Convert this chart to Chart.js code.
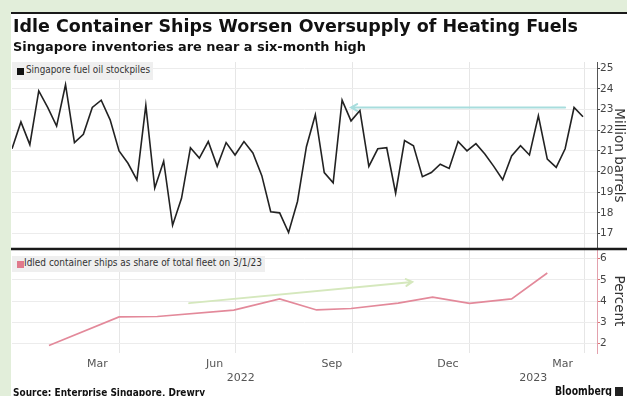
<!DOCTYPE html>
<html lang="en">
<head>
<meta charset="utf-8">
<title>Idle Container Ships Worsen Oversupply of Heating Fuels</title>
<script src="https://cdn.jsdelivr.net/npm/chart.js@4.4.1/dist/chart.umd.min.js"></script>
<style>
  html, body { margin: 0; padding: 0; }
  body {
    position: relative;
    width: 627px; height: 396px; overflow: hidden;
    background: #e2eeda;
    font-family: 'DejaVu Sans', sans-serif;
    color: #111;
  }
  #card {
    position: absolute; left: 11px; top: 12px; width: 616px; height: 384px;
    background: #fff; border-top: 2px solid #1a1a1a; box-sizing: border-box;
  }
  #chart { position: absolute; left: 0; top: 0; }
  .txt { position: absolute; white-space: nowrap; transform-origin: 0 0; }
  #title { left: 13px; top: 16px; font-size: 17px; font-weight: bold; }
  #subtitle { left: 13px; top: 40px; font-size: 12px; font-weight: bold; }
  .key { position: absolute; background: #efefef; color: #333; font-size: 10px; }
  .key .sq { position: absolute; left: 5px; width: 7px; height: 7px; }
  .key .lbl { position: absolute; top: 2px; white-space: nowrap; transform-origin: 0 0; }
  #keyFuel { left: 12px; top: 62px; width: 141px; height: 18px; }
  #keyFuel .sq { top: 6px; background: #111; }
  #keyFuel .lbl { left: 14px; }
  #keyShips { left: 12px; top: 256px; width: 253px; height: 16px; }
  #keyShips .sq { top: 5px; background: #e07a8c; }
  #keyShips .lbl { left: 12px; top: 1px; }
  #source { left: 13px; top: 386px; font-size: 11px; font-weight: bold; }
  #brand { left: 555px; top: 383px; font-size: 13px; font-weight: bold; }
  #brandIcon { position: absolute; left: 615px; top: 387px; width: 8px; height: 9px; background: #222; }
</style>
</head>
<body>
<div id="card"></div>
<canvas id="chart" width="627" height="396"></canvas>
<div class="txt" id="title">Idle Container Ships Worsen Oversupply of Heating Fuels</div>
<div class="txt" id="subtitle">Singapore inventories are near a six-month high</div>
<div class="key" id="keyFuel"><span class="sq"></span><span class="lbl" id="keyFuelText">Singapore fuel oil stockpiles</span></div>
<div class="key" id="keyShips"><span class="sq"></span><span class="lbl" id="keyShipsText">Idled container ships as share of total fleet on 3/1/23</span></div>
<div class="txt" id="source">Source: Enterprise Singapore, Drewry</div>
<div class="txt" id="brand">Bloomberg</div>
<div id="brandIcon"></div>

<script>
// ---- data ----
// weekly Singapore fuel oil stockpiles (million barrels), first week below
const fuelStart = '2022-01-07';
const fuelStockpiles = [
  21.1, 22.4, 21.3, 23.9, 23.1, 22.2, 24.2, 21.4, 21.8, 23.1,
  23.45, 22.5, 21.0, 20.4, 19.6, 23.2, 19.2, 20.5, 17.4, 18.7,
  21.15, 20.65, 21.45, 20.25, 21.4, 20.8, 21.45, 20.9, 19.8, 18.05,
  18.0, 17.05, 18.55, 21.2, 22.75, 19.95, 19.45, 23.45, 22.45, 22.95,
  20.25, 21.1, 21.15, 18.95, 21.5, 21.25, 19.75, 19.95, 20.35, 20.15,
  21.45, 21.0, 21.35, 20.85, 20.25, 19.6, 20.75, 21.25, 20.8, 22.7,
  20.6, 20.2, 21.1, 23.1, 22.65
];

// idled container ships as share of total fleet (percent)
const shipDates = ['2022-02-05', '2022-04-01', '2022-05-01', '2022-06-30', '2022-08-05', '2022-09-03',
                   '2022-09-30', '2022-11-06', '2022-12-03', '2023-01-01', '2023-02-03', '2023-03-03'];
const shipShare = [1.9, 3.25, 3.27, 3.57, 4.1, 3.58, 3.65, 3.9, 4.18, 3.89, 4.1, 5.32];

// axes
const xRange = ['2022-01-07', '2023-04-11'];
const monthTickDates = ['2022-03-15', '2022-06-15', '2022-09-15', '2022-12-15', '2023-03-15'];
const monthTickLabels = ['Mar', 'Jun', 'Sep', 'Dec', 'Mar'];
const gridDates = ['2022-04-01', '2022-07-01', '2022-10-01', '2023-01-01', '2023-04-01'];
const yearLabels = ['2022', '2023'];
const fuelTicks = [17, 18, 19, 20, 21, 22, 23, 24, 25];
const shipTicks = [2, 3, 4, 5, 6];

// highlight arrows drawn on the chart: [date, value] from -> to (head at "to")
const arrowNotes = [
  { axis: 'yFuel', from: ['2023-03-17', 23.1], to: ['2022-09-30', 23.1], color: '#a8dddd' },
  { axis: 'yShips', from: ['2022-05-26', 3.9], to: ['2022-11-17', 4.9], color: '#d5e8bd' }
];

// ---- helpers ----
const day = s => (Date.parse(s) - Date.parse('2022-01-01')) / 864e5;

const xMin = day(xRange[0]);
const xMax = day(xRange[1]);
const monthDays = monthTickDates.map(day);
const gridDays = gridDates.map(day);
const yearDays = yearLabels.map(y => {
  const a = Math.max(xMin, day(y + '-01-01'));
  const b = Math.min(xMax, day((+y + 1) + '-01-01'));
  return (a + b) / 2;
});

const fuelPoints = fuelStockpiles.map((v, i) => ({ x: day(fuelStart) + 7 * i, y: v }));
const shipPoints = shipShare.map((v, i) => ({ x: day(shipDates[i]), y: v }));

Chart.defaults.font.family = "'DejaVu Sans', sans-serif";

// black rule between the two panels
const panelRule = {
  id: 'panelRule',
  afterDraw(chart) {
    const ctx = chart.ctx;
    const y = chart.scales.yFuel.bottom;
    ctx.save();
    ctx.fillStyle = '#1a1a1a';
    ctx.fillRect(11, y - 1.25, chart.width - 11, 2.5);
    ctx.restore();
  }
};

// thin arrows
const arrows = {
  id: 'arrows',
  afterDatasetsDraw(chart) {
    const ctx = chart.ctx;
    const xs = chart.scales.x;
    arrowNotes.forEach(a => {
      const ys = chart.scales[a.axis];
      const x1 = xs.getPixelForValue(day(a.from[0])), y1 = ys.getPixelForValue(a.from[1]);
      const x2 = xs.getPixelForValue(day(a.to[0])), y2 = ys.getPixelForValue(a.to[1]);
      const ang = Math.atan2(y2 - y1, x2 - x1);
      const head = 7;
      ctx.save();
      ctx.strokeStyle = a.color;
      ctx.lineWidth = 2;
      ctx.lineCap = 'round';
      ctx.beginPath();
      ctx.moveTo(x1, y1);
      ctx.lineTo(x2, y2);
      ctx.moveTo(x2 - head * Math.cos(ang - 0.5), y2 - head * Math.sin(ang - 0.5));
      ctx.lineTo(x2, y2);
      ctx.lineTo(x2 - head * Math.cos(ang + 0.5), y2 - head * Math.sin(ang + 0.5));
      ctx.stroke();
      ctx.restore();
    });
  }
};

const tickFont = { size: 11 };
const yTickFont = { size: 10.5 };

new Chart(document.getElementById('chart'), {
  type: 'line',
  data: {
    datasets: [
      {
        label: 'Singapore fuel oil stockpiles',
        data: fuelPoints,
        yAxisID: 'yFuel',
        borderColor: '#222',
        borderWidth: 1.6,
        pointRadius: 0,
        tension: 0
      },
      {
        label: 'Idled container ships as share of total fleet on 3/1/23',
        data: shipPoints,
        yAxisID: 'yShips',
        borderColor: '#e3899a',
        borderWidth: 1.6,
        pointRadius: 0,
        tension: 0
      }
    ]
  },
  options: {
    responsive: false,
    animation: false,
    layout: { padding: { left: 12, top: 62, right: 0, bottom: 8 } },
    plugins: { legend: { display: false }, tooltip: { enabled: false } },
    scales: {
      x: {
        type: 'linear',
        position: 'bottom',
        weight: 0,
        min: xMin,
        max: xMax,
        afterBuildTicks: s => {
          s.ticks = [...monthDays, ...gridDays].sort((a, b) => a - b).map(v => ({ value: v }));
        },
        afterFit: s => { s.height = 19; },
        grid: {
          color: c => (c.tick && gridDays.includes(c.tick.value)) ? '#e6e6e6' : 'rgba(0,0,0,0)',
          drawTicks: false
        },
        border: { display: false },
        ticks: {
          autoSkip: false,
          maxRotation: 0,
          padding: 5,
          color: '#555',
          font: tickFont,
          callback: v => {
            const i = monthDays.indexOf(v);
            return i >= 0 ? monthTickLabels[i] : '';
          }
        }
      },
      x2: {
        type: 'linear',
        position: 'bottom',
        weight: 1,
        min: xMin,
        max: xMax,
        afterBuildTicks: s => { s.ticks = yearDays.map(v => ({ value: v })); },
        afterFit: s => { s.height = 16; },
        grid: { display: false, drawTicks: false },
        border: { display: false },
        ticks: {
          autoSkip: false,
          maxRotation: 0,
          padding: 0,
          color: '#555',
          font: tickFont,
          callback: (v, i) => yearLabels[i]
        }
      },
      yFuel: {
        type: 'linear',
        position: 'right',
        stack: 'panes',
        stackWeight: 187,
        weight: 0,
        min: 16.25,
        max: 25.3,
        afterBuildTicks: s => { s.ticks = fuelTicks.map(v => ({ value: v })); },
        afterFit: s => { s.width = 30; },
        grid: { color: '#ececec', tickColor: '#444', tickLength: 3 },
        border: { color: '#555' },
        ticks: { autoSkip: false, padding: 0, color: '#444', font: yTickFont },
        title: { display: true, text: 'Million barrels', padding: 0, color: '#333', font: { size: 13.5 } }
      },
      yShips: {
        type: 'linear',
        position: 'right',
        stack: 'panes',
        stackWeight: 104,
        weight: 1,
        min: 1.55,
        max: 6.45,
        afterBuildTicks: s => { s.ticks = shipTicks.map(v => ({ value: v })); },
        afterFit: s => { s.width = 30; },
        grid: { color: '#ececec', tickColor: '#d77', tickLength: 3 },
        border: { color: '#e3a1ad' },
        ticks: { autoSkip: false, padding: 0, color: '#444', font: yTickFont },
        title: { display: true, text: 'Percent', padding: 0, color: '#333', font: { size: 13.5 } }
      }
    }
  },
  plugins: [panelRule, arrows]
});

// squeeze headline texts to the widths they take in the original
function fitText(id, width) {
  const el = document.getElementById(id);
  el.style.transform = 'scaleX(' + (width / el.getBoundingClientRect().width) + ')';
}
fitText('title', 565);
fitText('subtitle', 353);
fitText('keyFuelText', 124);
fitText('keyShipsText', 238);
fitText('source', 192);
fitText('brand', 57);
</script>
</body>
</html>
